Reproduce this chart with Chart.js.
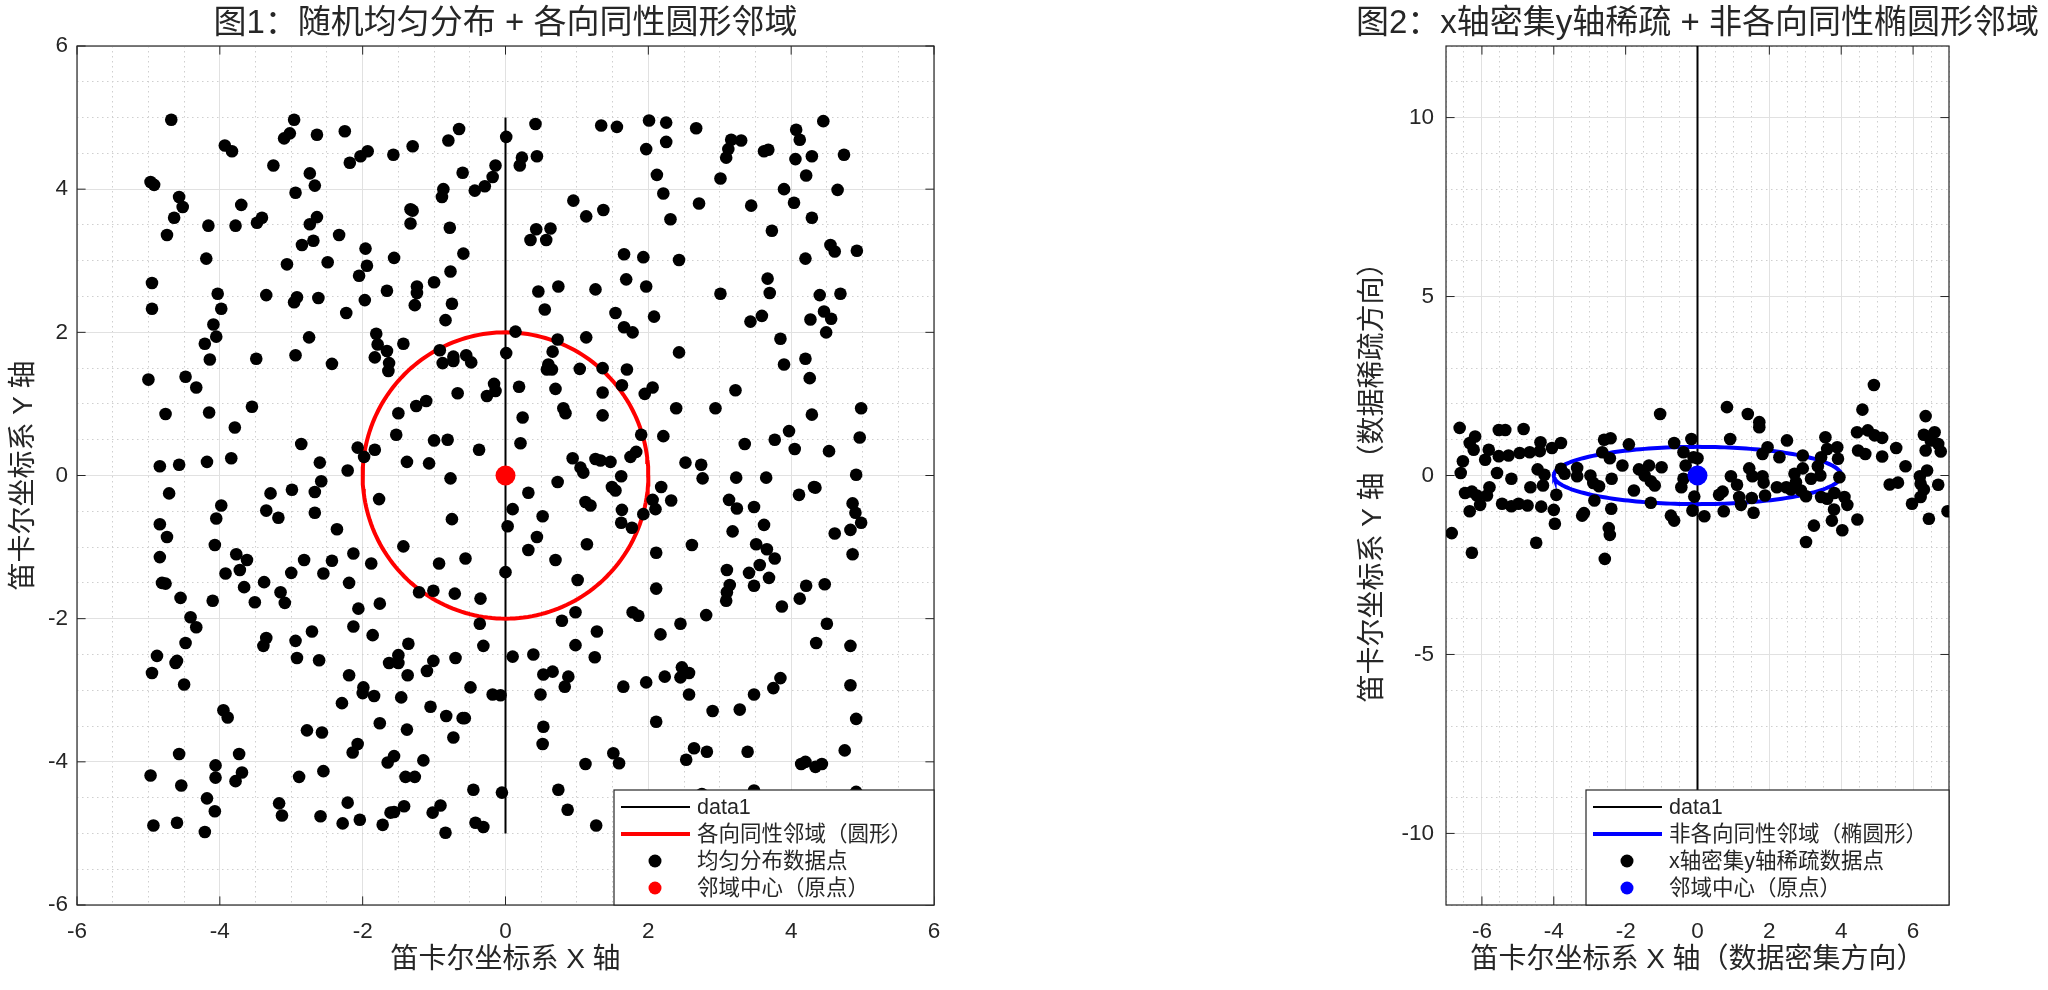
<!DOCTYPE html>
<html>
<head>
<meta charset="utf-8">
<script src="https://cdn.jsdelivr.net/npm/chart.js@4.4.1/dist/chart.umd.min.js"></script>
<style>
  html, body { margin: 0; padding: 0; background: #fff; width: 2048px; height: 990px; overflow: hidden; }
  #leftBox { position: absolute; left: 0; top: 0; width: 1000px; height: 990px; }
  #rightBox { position: absolute; left: 1300px; top: 0; width: 748px; height: 990px; }
</style>
</head>
<body>
<div id="leftBox"><canvas id="chart1"></canvas></div>
<div id="rightBox"><canvas id="chart2"></canvas></div>
<script>
// ---- chart 1: uniform points in [-5,5] x [-5,5]
const uniformX = [
  -4.68,-2.96,-3.02,-3.10,-2.64,-2.25,-0.65,-0.80,-3.93,-3.83,-1.30,-1.93,-2.03,-2.18,-1.57,-3.25,-2.74,-2.67,-4.97,-4.92,
  -2.94,-0.14,-0.18,-0.29,-0.43,-0.60,-0.87,-0.89,0.01,-4.57,-4.52,-3.70,-4.64,-3.41,-3.48,-4.16,-3.78,-2.64,-2.74,-1.33,
  -1.30,-1.33,-0.78,-4.74,-2.33,-2.69,-2.85,-1.96,-4.19,-3.06,-2.49,-1.56,-0.59,-1.94,-2.05,-0.77,-1.00,-4.95,-4.03,-3.35,
  -2.92,-2.96,-2.62,-1.97,-1.66,-1.24,-1.24,-1.27,-0.75,-4.95,-3.98,-2.23,-0.84,-4.09,-4.05,-4.21,-2.75,-1.81,-1.79,-1.66,
  -1.83,-1.63,-1.64,-1.43,-0.92,-0.88,-0.73,-0.73,-0.55,-0.48,0.01,-4.14,-3.49,-2.94,-2.43,-5.00,-4.48,-4.33,-0.67,-0.16,
  -0.14,-0.26,-1.11,-1.25,-1.50,-4.76,-4.15,-3.55,-3.79,-1.53,-1.00,-0.81,-0.37,-2.86,-2.07,-1.98,-1.83,-4.84,-4.57,-4.18,
  -3.84,-2.60,-2.21,-1.38,-1.07,
  0.42,1.34,1.56,2.01,2.25,2.67,0.23,0.20,0.44,1.97,2.25,3.16,3.30,3.12,3.09,3.62,3.68,4.07,4.12,4.45,
  4.06,4.29,4.74,2.12,3.01,4.21,2.21,3.90,4.65,0.95,1.37,1.13,2.71,3.44,4.04,2.31,4.29,0.43,0.63,0.35,
  0.57,3.73,4.55,4.61,4.92,1.66,1.93,2.43,4.20,3.67,3.70,1.69,1.97,0.46,0.74,1.26,3.01,4.40,4.69,0.55,
  1.54,2.08,1.66,1.78,3.43,3.59,4.27,4.46,4.56,4.49,0.14,0.73,1.13,3.85,2.43,0.66,0.60,0.58,0.65,1.04,
  1.36,1.70,4.20,3.90,4.26,0.19,0.70,1.36,1.63,2.06,1.95,3.22,0.81,0.84,1.36,2.39,2.94,0.24,4.29,4.98,
  1.90,2.21,0.21,3.97,3.77,4.05,4.96,3.35,4.53,0.94,1.05,1.09,1.26,1.33,1.47,1.75,1.83,2.52,2.74,
  -0.77,-2.58,-2.67,-4.71,-3.29,-2.99,-1.77,-3.98,-4.05,-3.35,-3.18,-2.67,-0.75,-4.84,-4.74,-2.36,-4.07,-1.43,-4.84,-3.77,
  -3.62,-3.72,-3.92,-2.82,-2.43,-2.13,-1.88,-0.56,-0.93,-3.00,-2.55,0.00,-4.81,-4.76,-3.66,-3.38,-3.15,-3.09,-2.19,-1.21,
  -1.01,-0.71,-0.35,-4.55,-4.10,-3.51,-1.76,-2.06,-4.41,-4.33,-2.13,-0.36,-1.86,-2.71,-3.35,-3.39,-2.94,-4.48,-1.36,-0.31,
  -4.88,-4.60,-4.62,-4.95,-2.92,-2.61,-1.50,-1.63,-1.50,-1.01,-1.10,-0.70,-1.37,-2.19,-4.50,-1.99,-2.00,-1.84,-1.46,-0.49,
  -0.18,-0.07,-2.29,-1.05,-0.83,-0.60,-0.57,-3.95,-3.89,-1.76,-0.73,-2.78,-2.57,-1.38,-2.07,-2.14,-4.57,-3.73,-1.56,-1.65,
  -1.15,-4.06,-4.06,-3.69,-3.78,-4.97,-4.54,-2.89,-2.55,-1.40,-1.27,-0.45,-0.05,-4.18,-4.07,-3.17,-3.13,-2.21,-1.42,-1.61,
  -1.56,-0.91,-1.02,-4.93,-4.60,-4.21,-2.59,-2.28,-2.04,-1.72,-0.84,-0.42,-0.31,
  0.73,1.62,0.32,1.49,1.54,1.12,1.19,2.18,2.06,2.10,2.32,2.76,3.23,3.65,4.91,4.32,4.34,4.11,3.13,3.24,
  3.48,4.86,4.90,4.98,4.83,4.61,4.86,0.10,0.03,0.52,1.63,1.62,1.77,1.93,0.44,0.32,0.70,1.14,3.18,3.62,
  2.11,2.61,3.51,3.66,3.77,1.01,3.10,3.14,3.10,3.09,3.41,3.56,3.48,3.69,2.11,3.87,4.21,4.12,4.47,0.98,
  0.79,1.78,1.86,2.81,1.28,2.45,2.17,4.50,4.35,4.83,0.98,0.10,0.39,1.25,0.53,0.66,0.88,0.83,0.49,1.65,
  1.97,2.23,2.47,2.45,2.57,2.57,3.85,3.75,3.48,4.83,2.90,3.28,0.53,0.52,2.11,4.91,1.51,1.59,1.12,2.64,
  2.82,2.53,3.39,4.75,4.14,4.20,4.34,4.43,0.74,0.87,1.27,3.48,4.91,2.75
];
const uniformY = [
  4.97,4.97,4.78,4.71,4.76,4.81,4.84,4.68,4.61,4.53,4.60,4.53,4.46,4.37,4.48,4.33,4.22,4.05,4.10,4.06,
  3.95,4.33,4.17,4.04,3.98,4.23,4.00,3.89,4.73,3.89,3.75,3.78,3.60,3.60,3.53,3.49,3.49,3.61,3.51,3.72,
  3.70,3.52,3.46,3.36,3.36,3.28,3.22,3.17,3.03,2.95,2.98,3.04,3.10,2.93,2.79,2.85,2.70,2.69,2.54,2.52,
  2.49,2.42,2.48,2.45,2.58,2.64,2.55,2.38,2.40,2.33,2.33,2.27,2.17,2.11,1.94,1.84,1.93,1.98,1.83,1.74,
  1.65,1.57,1.46,1.84,1.75,1.57,1.66,1.60,1.68,1.58,1.71,1.62,1.63,1.68,1.56,1.34,1.38,1.23,1.15,1.28,
  1.18,1.11,1.04,0.97,0.87,0.86,0.88,0.96,0.67,0.57,0.49,0.50,0.36,0.44,0.39,0.26,0.36,0.13,0.15,0.19,
  0.24,0.18,0.07,0.19,0.17,
  4.91,4.89,4.87,4.96,4.93,4.85,4.44,4.33,4.46,4.56,4.66,4.69,4.68,4.56,4.44,4.53,4.55,4.83,4.69,4.95,
  4.42,4.46,4.48,4.20,4.15,4.19,3.94,4.00,3.99,3.84,3.71,3.62,3.80,3.77,3.81,3.58,3.60,3.44,3.45,3.29,
  3.29,3.42,3.22,3.13,3.14,3.09,3.05,3.01,3.03,2.75,2.55,2.74,2.64,2.57,2.64,2.60,2.54,2.52,2.54,2.32,
  2.27,2.22,2.07,2.00,2.15,2.23,2.18,2.29,2.19,2.00,2.01,1.90,1.93,1.91,1.72,1.73,1.55,1.48,1.48,1.49,
  1.50,1.48,1.63,1.55,1.36,1.24,1.21,1.16,1.26,1.23,1.14,1.19,0.94,0.87,0.84,0.94,0.94,0.81,0.85,0.94,
  0.57,0.55,0.45,0.62,0.50,0.37,0.53,0.44,0.34,0.24,0.11,0.04,0.23,0.21,0.19,0.26,0.33,0.18,0.15,
  -0.04,-0.08,-0.23,-0.25,-0.25,-0.20,-0.33,-0.42,-0.60,-0.49,-0.59,-0.52,-0.61,-0.68,-0.86,-0.75,-0.97,-0.99,-1.14,-1.10,
  -1.18,-1.32,-1.37,-1.18,-1.19,-1.09,-1.23,-1.16,-1.23,-1.36,-1.37,-1.35,-1.50,-1.51,-1.56,-1.49,-1.63,-1.78,-1.50,-1.63,
  -1.61,-1.65,-1.72,-1.71,-1.75,-1.77,-1.79,-1.86,-1.98,-2.12,-2.11,-2.07,-2.23,-2.18,-2.27,-2.38,-2.31,-2.34,-2.35,-2.38,
  -2.52,-2.59,-2.62,-2.76,-2.55,-2.58,-2.51,-2.62,-2.62,-2.59,-2.73,-2.55,-2.79,-2.79,-2.92,-2.96,-3.04,-3.08,-3.10,-2.96,
  -3.06,-3.07,-3.18,-3.23,-3.36,-3.39,-3.39,-3.28,-3.38,-3.46,-3.66,-3.56,-3.59,-3.55,-3.75,-3.87,-3.89,-3.89,-3.92,-4.01,
  -3.98,-4.05,-4.22,-4.15,-4.27,-4.19,-4.33,-4.21,-4.13,-4.21,-4.21,-4.39,-4.43,-4.51,-4.69,-4.58,-4.75,-4.57,-4.62,-4.71,
  -4.70,-4.61,-4.71,-4.89,-4.85,-4.98,-4.76,-4.86,-4.81,-4.88,-4.99,-4.85,-4.91,
  -0.09,-0.01,-0.24,-0.16,-0.21,-0.37,-0.42,-0.16,-0.34,-0.47,-0.35,-0.04,-0.03,-0.03,0.01,-0.16,-0.17,-0.27,-0.34,-0.46,
  -0.44,-0.39,-0.52,-0.66,-0.76,-0.81,-1.10,-0.47,-0.71,-0.57,-0.48,-0.66,-0.73,-0.54,-0.86,-1.04,-1.18,-0.96,-0.78,-0.69,
  -1.08,-0.97,-0.96,-1.03,-1.16,-1.46,-1.32,-1.53,-1.63,-1.75,-1.36,-1.25,-1.54,-1.43,-1.58,-1.83,-1.54,-1.72,-1.52,-1.91,
  -2.03,-1.91,-1.96,-1.95,-2.18,-2.07,-2.22,-2.07,-2.34,-2.38,-2.37,-2.53,-2.50,-2.54,-2.78,-2.74,-2.81,-2.95,-3.06,-2.95,
  -2.89,-2.81,-2.68,-2.82,-2.76,-3.06,-2.83,-2.97,-3.06,-2.93,-3.29,-3.27,-3.51,-3.75,-3.44,-3.40,-3.88,-4.02,-4.03,-3.81,
  -3.86,-3.97,-3.86,-3.84,-4.03,-4.00,-4.07,-4.03,-4.39,-4.67,-4.89,-4.40,-4.42,-4.45
];
const circleRadius = 2;
const lineX1 = [0, 0];
const lineY1 = [-5, 5];
const xTicks1 = [-6, -4, -2, 0, 2, 4, 6];
const yTicks1 = [-6, -4, -2, 0, 2, 4, 6];
const minorTicks1 = [-5.5, -5, -4.5, -3.5, -3, -2.5, -1.5, -1, -0.5, 0.5, 1, 1.5, 2.5, 3, 3.5, 4.5, 5, 5.5];

// ---- chart 2: points dense along x, sparse along y
const denseX = [
  -6.62,-6.84,-6.28,-6.19,-6.34,-6.23,-6.53,-6.59,-6.47,-6.28,-6.14,-6.05,-6.34,-5.81,-5.91,-5.79,-5.86,-5.53,-5.35,-5.53,
  -5.26,-5.58,-5.18,-5.44,-5.18,-4.98,-4.73,-4.84,-4.95,-4.67,-4.37,-4.39,-4.05,-3.80,-4.45,-4.26,-4.30,-4.65,-4.35,-4.00,
  -3.97,-3.93,-4.49,-3.80,-3.70,-3.35,-3.35,-2.98,-2.90,-2.74,-2.87,-3.16,-3.21,-2.60,-2.42,-2.65,-2.44,-1.91,-2.09,-2.39,
  -2.40,-2.47,-2.44,-2.58,-1.04,-1.77,-1.63,-1.35,-1.47,-1.30,-1.19,-1.00,-1.30,-0.74,-0.65,-0.65,-0.39,-0.17,-0.33,-0.39,
  -0.45,-0.09,-0.14,-0.11,0.00,0.19,0.82,0.91,1.40,1.72,1.72,0.93,1.10,0.60,0.70,0.73,1.16,1.21,1.51,1.44,
  1.53,1.56,1.81,1.95,1.81,1.84,1.88,2.28,2.49,2.21,2.47,2.60,2.70,2.93,2.74,2.88,2.93,3.02,3.16,3.24,
  3.02,3.56,3.61,3.44,3.35,3.42,3.89,3.91,3.95,3.44,3.61,3.81,4.09,4.17,3.80,3.74,4.03,4.45,4.91,4.59,
  4.44,4.74,4.93,5.14,4.47,4.67,5.14,5.53,5.79,5.35,5.58,5.97,6.35,6.30,6.60,6.49,6.70,6.77,6.35,6.39,
  6.19,6.21,6.30,6.21,6.70,6.44,6.96
];
const denseY = [
  1.33,-1.61,-2.16,1.09,0.91,0.72,0.40,0.07,-0.49,-0.45,-0.56,-0.82,-1.00,0.72,0.44,-0.33,-0.56,1.27,1.27,0.54,
  0.56,0.07,-0.09,-0.79,-0.86,-0.79,-0.84,1.30,0.63,0.65,0.93,0.68,0.77,0.91,0.17,0.02,-0.28,-0.33,-0.87,-0.96,
  -1.35,-0.54,-1.88,0.19,0.05,0.21,-0.02,0.00,-0.21,-0.30,-0.70,-1.05,-1.12,1.00,1.04,0.65,0.48,0.87,0.28,-0.09,
  -0.93,-1.47,-1.66,-2.33,1.72,-0.42,0.17,0.28,0.00,-0.16,-0.28,0.23,-0.76,-1.12,-1.26,0.91,0.65,1.02,0.28,-0.09,
  -0.33,-0.59,-0.98,0.51,0.48,-1.14,1.91,1.02,1.72,1.49,1.35,-0.02,-0.26,-0.54,-0.45,-1.00,-0.60,-0.82,-0.63,0.20,
  -0.02,-1.04,0.60,0.79,-0.02,-0.20,-0.56,0.51,0.98,-0.33,-0.33,-0.39,0.05,0.20,-0.19,-0.42,0.56,-0.58,-0.09,-1.40,
  -1.86,1.07,0.74,0.51,0.26,0.00,0.79,0.47,-0.05,-0.60,-0.65,-0.49,-0.60,-0.82,-0.95,-1.26,-1.53,-1.23,2.53,1.84,
  1.21,1.26,1.12,1.05,0.70,0.60,0.53,0.77,0.26,-0.25,-0.20,-0.79,1.66,1.14,1.21,0.98,0.88,0.67,0.70,0.14,
  -0.02,-0.23,-0.39,-0.60,-0.26,-1.21,-1.00
];
const ellipseA = 4;
const ellipseB = 0.8;
const lineX2 = [0, 0];
const lineY2 = [-12, 12];
const xTicks2 = [-6, -4, -2, 0, 2, 4, 6];
const yTicks2 = [-10, -5, 0, 5, 10];
const xMinor2 = [-7, -6.5, -5.5, -5, -4.5, -3.5, -3, -2.5, -1.5, -1, -0.5, 0.5, 1, 1.5, 2.5, 3, 3.5, 4.5, 5, 5.5, 6.5, 7];
const yMinor2 = [-12, -11, -9, -8, -7, -6, -4, -3, -2, -1, 1, 2, 3, 4, 6, 7, 8, 9, 11, 12];

const FF = "'Liberation Sans', 'Noto Sans CJK SC', sans-serif";
const TEXT = '#262626';

function toPoints(xs, ys) {
  return xs.map((x, i) => ({ x: x, y: ys[i] }));
}

function outline(a, b) {
  const pts = [];
  for (let i = 0; i <= 200; i++) {
    const t = (2 * Math.PI * i) / 200;
    pts.push({ x: a * Math.cos(t), y: b * Math.sin(t) });
  }
  return pts;
}

const framePlugin = {
  id: 'frame',
  beforeDatasetsDraw(chart, args, opts) {
    const { ctx, chartArea: a, scales } = chart;
    const tl = 8.6;
    ctx.save();
    ctx.strokeStyle = TEXT;
    ctx.lineWidth = 1;
    ctx.beginPath();
    opts.xTicks.forEach((v) => {
      const px = scales.x.getPixelForValue(v);
      ctx.moveTo(px, a.bottom); ctx.lineTo(px, a.bottom - tl);
      ctx.moveTo(px, a.top); ctx.lineTo(px, a.top + tl);
    });
    opts.yTicks.forEach((v) => {
      const py = scales.y.getPixelForValue(v);
      ctx.moveTo(a.left, py); ctx.lineTo(a.left + tl, py);
      ctx.moveTo(a.right, py); ctx.lineTo(a.right - tl, py);
    });
    ctx.stroke();
    ctx.lineWidth = 1.2;
    ctx.strokeRect(a.left, a.top, a.right - a.left, a.bottom - a.top);
    ctx.restore();
  },
  afterDraw(chart, args, opts) {
    const { ctx, chartArea: a } = chart;
    ctx.save();
    // title
    ctx.fillStyle = TEXT;
    ctx.font = '33px ' + FF;
    ctx.textAlign = 'center';
    ctx.textBaseline = 'middle';
    ctx.fillText(opts.title, (a.left + a.right) / 2, 24);

    // legend, drawn over the plot in the lower right corner
    const items = chart.data.datasets;
    ctx.font = '21.5px ' + FF;
    const maxW = Math.max(...items.map((d) => ctx.measureText(d.label).width));
    const w = 83 + maxW + 22;
    const h = 115;
    const bx = a.right - w;
    const by = a.bottom - h;
    ctx.fillStyle = '#fff';
    ctx.fillRect(bx, by, w, h);
    ctx.strokeStyle = TEXT;
    ctx.lineWidth = 1.2;
    ctx.strokeRect(bx, by, w, h);
    items.forEach((d, i) => {
      const cy = by + 17 + 27 * i;
      if (d.showLine) {
        ctx.strokeStyle = d.borderColor;
        ctx.lineWidth = d.borderWidth;
        ctx.beginPath();
        ctx.moveTo(bx + 7, cy);
        ctx.lineTo(bx + 76, cy);
        ctx.stroke();
      } else {
        ctx.fillStyle = d.backgroundColor;
        ctx.beginPath();
        ctx.arc(bx + 41, cy, 6.5, 0, 2 * Math.PI);
        ctx.fill();
      }
      ctx.fillStyle = TEXT;
      ctx.textAlign = 'left';
      ctx.textBaseline = 'middle';
      ctx.fillText(d.label, bx + 83, cy + 1);
    });
    ctx.restore();
  }
};

function majorAxis(pos, min, max, ticks, size, title, titlePad, tickPad) {
  return {
    type: 'linear',
    position: pos,
    min: min,
    max: max,
    afterBuildTicks: (s) => { s.ticks = ticks.map((v) => ({ value: v })); },
    afterFit: (s) => { if (pos === 'bottom') s.height = size; else s.width = size; },
    grid: { color: '#e1e1e1', lineWidth: 1, drawTicks: false },
    border: { display: false },
    ticks: { color: TEXT, font: { family: FF, size: 22.5 }, padding: tickPad, autoSkip: false, maxRotation: 0 },
    title: { display: true, text: title, color: TEXT, font: { family: FF, size: 28 }, padding: titlePad }
  };
}

function minorAxis(pos, min, max, ticks) {
  return {
    type: 'linear',
    position: pos,
    min: min,
    max: max,
    afterBuildTicks: (s) => { s.ticks = ticks.map((v) => ({ value: v })); },
    afterFit: (s) => { if (pos === 'bottom') s.height = 0; else s.width = 0; },
    grid: { color: '#cfcfcf', lineWidth: 1, drawTicks: false },
    border: { display: false, dash: [1.5, 3.5] },
    ticks: { display: false }
  };
}

function makeChart(id, cfg) {
  return new Chart(document.getElementById(id), {
    type: 'scatter',
    data: { datasets: cfg.datasets },
    options: {
      responsive: true,
      maintainAspectRatio: false,
      animation: false,
      events: [],
      layout: { padding: cfg.padding },
      plugins: {
        legend: { display: false },
        tooltip: { enabled: false },
        frame: { title: cfg.title, xTicks: cfg.xTicks, yTicks: cfg.yTicks }
      },
      scales: cfg.scales
    },
    plugins: [framePlugin]
  });
}

makeChart('chart1', {
  title: '图1：随机均匀分布 + 各向同性圆形邻域',
  padding: { left: 0, top: 46, right: 66, bottom: 0 },
  xTicks: xTicks1,
  yTicks: yTicks1,
  datasets: [
    { label: 'data1', data: toPoints(lineX1, lineY1), showLine: true, borderColor: '#000000', borderWidth: 2, pointRadius: 0, order: 4 },
    { label: '各向同性邻域（圆形）', data: outline(circleRadius, circleRadius), showLine: true, borderColor: '#ff0000', borderWidth: 4, pointRadius: 0, order: 3 },
    { label: '均匀分布数据点', data: toPoints(uniformX, uniformY), pointRadius: 6.3, backgroundColor: '#000000', borderWidth: 0, order: 2 },
    { label: '邻域中心（原点）', data: [{ x: 0, y: 0 }], pointRadius: 10, backgroundColor: '#ff0000', borderWidth: 0, order: 1 }
  ],
  scales: {
    x: majorAxis('bottom', -6, 6, xTicks1, 85, '笛卡尔坐标系 X 轴', 13, 13),
    xMinor: minorAxis('bottom', -6, 6, minorTicks1),
    y: majorAxis('left', -6, 6, yTicks1, 77, '笛卡尔坐标系 Y 轴', 7, 9),
    yMinor: minorAxis('left', -6, 6, minorTicks1)
  }
});

makeChart('chart2', {
  title: '图2：x轴密集y轴稀疏 + 非各向同性椭圆形邻域',
  padding: { left: 0, top: 46, right: 99, bottom: 0 },
  xTicks: xTicks2,
  yTicks: yTicks2,
  datasets: [
    { label: 'data1', data: toPoints(lineX2, lineY2), showLine: true, borderColor: '#000000', borderWidth: 2, pointRadius: 0, order: 4 },
    { label: '非各向同性邻域（椭圆形）', data: outline(ellipseA, ellipseB), showLine: true, borderColor: '#0000ff', borderWidth: 4, pointRadius: 0, order: 3 },
    { label: 'x轴密集y轴稀疏数据点', data: toPoints(denseX, denseY), pointRadius: 6.3, backgroundColor: '#000000', borderWidth: 0, order: 2 },
    { label: '邻域中心（原点）', data: [{ x: 0, y: 0 }], pointRadius: 10, backgroundColor: '#0000ff', borderWidth: 0, order: 1 }
  ],
  scales: {
    x: majorAxis('bottom', -7, 7, xTicks2, 85, '笛卡尔坐标系 X 轴（数据密集方向）', 13, 13),
    xMinor: minorAxis('bottom', -7, 7, xMinor2),
    y: majorAxis('left', -12, 12, yTicks2, 146, '笛卡尔坐标系 Y 轴（数据稀疏方向）', 56, 12),
    yMinor: minorAxis('left', -12, 12, yMinor2)
  }
});
</script>
</body>
</html>
